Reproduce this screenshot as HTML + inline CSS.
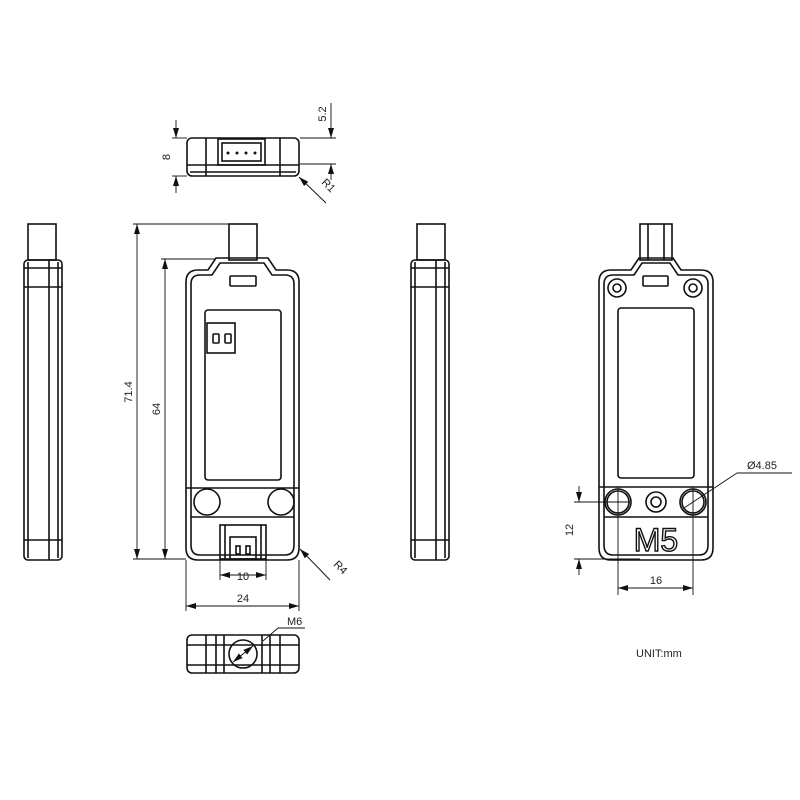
<!DOCTYPE html>
<html><head><meta charset="utf-8"><style>body{margin:0;background:#fff}svg{display:block}text{font-family:"Liberation Sans",sans-serif;fill:#222}</style></head><body>
<svg width="800" height="800" viewBox="0 0 800 800" xmlns="http://www.w3.org/2000/svg">
<defs><marker id="a" viewBox="0 0 10 6" refX="10" refY="3" markerWidth="10" markerHeight="6" orient="auto-start-reverse" markerUnits="userSpaceOnUse"><path d="M0,0 L10,3 L0,6 z" fill="#111"/></marker></defs>
<g fill="none" stroke="#111" stroke-width="1.6">
<!-- top view -->
<rect x="187" y="138" width="112" height="38" rx="5"/>
<line x1="187" y1="165" x2="299" y2="165"/><line x1="190" y1="172" x2="296" y2="172"/>
<line x1="206" y1="138" x2="206" y2="176"/><line x1="280" y1="138" x2="280" y2="176"/>
<rect x="218" y="139" width="47" height="26"/><rect x="222" y="143" width="39" height="18"/>
<g fill="#111" stroke="none"><circle cx="228" cy="153" r="1.5"/><circle cx="237" cy="153" r="1.5"/><circle cx="246" cy="153" r="1.5"/><circle cx="255" cy="153" r="1.5"/></g>
<!-- left side -->
<rect x="28" y="224" width="28" height="36"/>
<rect x="24" y="260" width="38" height="300" rx="4"/>
<line x1="28" y1="262" x2="28" y2="558"/><line x1="49" y1="260" x2="49" y2="560"/><line x1="58" y1="262" x2="58" y2="558"/>
<line x1="24" y1="268" x2="62" y2="268"/><line x1="24" y1="287" x2="62" y2="287"/><line x1="24" y1="540" x2="62" y2="540"/>
<!-- third side -->
<rect x="417" y="224" width="28" height="36"/>
<rect x="411" y="260" width="38" height="300" rx="4"/>
<line x1="415" y1="262" x2="415" y2="558"/><line x1="436" y1="260" x2="436" y2="560"/><line x1="445" y1="262" x2="445" y2="558"/>
<line x1="411" y1="268" x2="449" y2="268"/><line x1="411" y1="287" x2="449" y2="287"/><line x1="411" y1="540" x2="449" y2="540"/>
<!-- back view -->
<rect x="229" y="224" width="28" height="36"/>
<path d="M216,258 L268,258 L276,270 L287,270 Q299,270 299,282 L299,548 Q299,560 287,560 L198,560 Q186,560 186,548 L186,282 Q186,270 198,270 L208,270 Z"/>
<path d="M220,263 L264,263 L272,275 L285,275 Q294,275 294,284 L294,545 Q294,555 285,555 L200,555 Q191,555 191,545 L191,284 Q191,275 200,275 L212,275 Z"/>
<rect x="230" y="276" width="26" height="10" rx="1"/>
<rect x="205" y="310" width="76" height="170" rx="3"/>
<rect x="207" y="323" width="28" height="30"/>
<rect x="213" y="334" width="6" height="9" rx="1"/><rect x="225" y="334" width="6" height="9" rx="1"/>
<line x1="186" y1="488" x2="299" y2="488"/><line x1="191" y1="517" x2="294" y2="517"/>
<circle cx="207" cy="502" r="13"/><circle cx="281" cy="502" r="13"/>
<rect x="220" y="525" width="46" height="34"/><line x1="225" y1="525" x2="225" y2="559"/><line x1="261" y1="525" x2="261" y2="559"/>
<rect x="230" y="537" width="26" height="22"/><rect x="236" y="546" width="4" height="8"/><rect x="246" y="546" width="4" height="8"/>
<!-- front view -->
<rect x="640" y="224" width="32" height="36"/><line x1="648" y1="224" x2="648" y2="260"/><line x1="664" y1="224" x2="664" y2="260"/>
<path d="M639,258 L673,258 L681,270 L701,270 Q713,270 713,282 L713,548 Q713,560 701,560 L611,560 Q599,560 599,548 L599,282 Q599,270 611,270 L631,270 Z"/>
<path d="M642,263 L670,263 L678,275 L699,275 Q708,275 708,284 L708,545 Q708,555 699,555 L613,555 Q604,555 604,545 L604,284 Q604,275 613,275 L634,275 Z"/>
<rect x="643" y="276" width="25" height="10" rx="1"/>
<circle cx="617" cy="288" r="9"/><circle cx="617" cy="288" r="4"/>
<circle cx="693" cy="288" r="9"/><circle cx="693" cy="288" r="4"/>
<rect x="618" y="308" width="76" height="170" rx="3"/>
<line x1="599" y1="487" x2="713" y2="487"/><line x1="604" y1="517" x2="708" y2="517"/>
<circle cx="618" cy="502" r="13"/><circle cx="618" cy="502" r="11"/>
<circle cx="693" cy="502" r="13"/><circle cx="693" cy="502" r="11"/>
<circle cx="656" cy="502" r="10"/><circle cx="656" cy="502" r="5"/>
<!-- bottom view -->
<rect x="187" y="635" width="112" height="38" rx="5"/>
<line x1="187" y1="645" x2="299" y2="645"/><line x1="187" y1="665" x2="299" y2="665"/>
<line x1="206" y1="635" x2="206" y2="673"/><line x1="216" y1="635" x2="216" y2="673"/>
<line x1="224" y1="635" x2="224" y2="673"/><line x1="262" y1="635" x2="262" y2="673"/>
<line x1="270" y1="635" x2="270" y2="673"/><line x1="280" y1="635" x2="280" y2="673"/>
<circle cx="243" cy="654" r="14"/>
</g>
<text x="656" y="551" font-size="32" text-anchor="middle" fill="none" stroke="#111" stroke-width="1.4" style="fill:none">M5</text>
<!-- dimensions -->
<g fill="none" stroke="#111" stroke-width="0.9">
<line x1="133" y1="224" x2="229" y2="224"/><line x1="133" y1="559" x2="186" y2="559"/>
<line x1="137" y1="224" x2="137" y2="559" marker-start="url(#a)" marker-end="url(#a)"/>
<line x1="161" y1="259" x2="216" y2="259"/>
<line x1="165" y1="259" x2="165" y2="559" marker-start="url(#a)" marker-end="url(#a)"/>
<line x1="220" y1="559" x2="220" y2="580"/><line x1="266" y1="559" x2="266" y2="580"/>
<line x1="220" y1="575" x2="266" y2="575" marker-start="url(#a)" marker-end="url(#a)"/>
<line x1="186" y1="560" x2="186" y2="611"/><line x1="299" y1="560" x2="299" y2="611"/>
<line x1="186" y1="606" x2="299" y2="606" marker-start="url(#a)" marker-end="url(#a)"/>
<line x1="330" y1="580" x2="300" y2="549" marker-end="url(#a)"/>
<line x1="172" y1="138" x2="187" y2="138"/><line x1="172" y1="176" x2="187" y2="176"/>
<line x1="176" y1="120" x2="176" y2="138" marker-end="url(#a)"/><line x1="176" y1="193" x2="176" y2="176" marker-end="url(#a)"/>
<line x1="300" y1="138" x2="336" y2="138"/><line x1="300" y1="164" x2="336" y2="164"/>
<line x1="331" y1="103" x2="331" y2="138" marker-end="url(#a)"/><line x1="331" y1="180" x2="331" y2="164" marker-end="url(#a)"/>
<line x1="326" y1="203" x2="299" y2="177" marker-end="url(#a)"/>
<line x1="574" y1="502" x2="630" y2="502"/><line x1="574" y1="559" x2="640" y2="559"/>
<line x1="579" y1="486" x2="579" y2="502" marker-end="url(#a)"/><line x1="579" y1="575" x2="579" y2="559" marker-end="url(#a)"/>
<line x1="618" y1="487" x2="618" y2="595"/><line x1="693" y1="487" x2="693" y2="595"/>
<line x1="618" y1="588" x2="693" y2="588" marker-start="url(#a)" marker-end="url(#a)"/>
<line x1="792" y1="473" x2="737" y2="473"/><line x1="737" y1="473" x2="684" y2="508"/>
<line x1="233" y1="662" x2="253" y2="646" marker-start="url(#a)" marker-end="url(#a)"/>
<line x1="305" y1="628" x2="278" y2="628"/><line x1="278" y1="628" x2="263" y2="641"/>
</g>
<g font-size="11">
<text x="0" y="0" transform="translate(132,392) rotate(-90)" text-anchor="middle">71.4</text>
<text x="0" y="0" transform="translate(160,409) rotate(-90)" text-anchor="middle">64</text>
<text x="243" y="580" text-anchor="middle">10</text>
<text x="243" y="602" text-anchor="middle">24</text>
<text x="0" y="0" transform="translate(333,565) rotate(45)">R4</text>
<text x="0" y="0" transform="translate(170,157) rotate(-90)" text-anchor="middle">8</text>
<text x="0" y="0" transform="translate(326,114) rotate(-90)" text-anchor="middle">5.2</text>
<text x="0" y="0" transform="translate(321,183) rotate(45)">R1</text>
<text x="0" y="0" transform="translate(573,530) rotate(-90)" text-anchor="middle">12</text>
<text x="656" y="584" text-anchor="middle">16</text>
<text x="747" y="469">Ø4.85</text>
<text x="287" y="625">M6</text>
<text x="636" y="657">UNIT:mm</text>
</g>
</svg>
</body></html>
